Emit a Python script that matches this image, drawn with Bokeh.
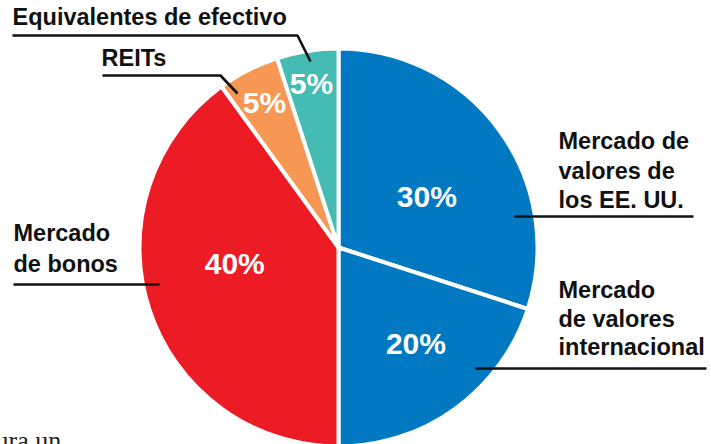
import numpy as np
from bokeh.plotting import figure
from bokeh.models import Range1d, ColumnDataSource
from bokeh.core.properties import value
from bokeh.embed import file_html
from bokeh.resources import INLINE

# ---------------- data ----------------
categories = ["Mercado de valores de los EE. UU.", "Mercado de valores internacional",
              "Mercado de bonos", "REITs", "Equivalentes de efectivo"]
shares = [30, 20, 40, 5, 5]
pct_labels = ["30%", "20%", "40%", "5%", "5%"]
label_lines = [["Mercado de", "valores de", "los EE. UU."],
               ["Mercado", "de valores", "internacional"],
               ["Mercado", "de bonos"],
               ["REITs"],
               ["Equivalentes de efectivo"]]
colors = ["#0079C2", "#0079C2", "#ED1C24", "#F69853", "#45BCB3"]

# ---------------- layout (pixels, page coords) ----------------
W, H = 711, 444
def px(sx):  return sx
def py(sy):  return H - sy

CX, CY, R = px(338), py(247), 199
# percent label placement: (angle offset from slice middle in deg, radius)
pct_place = [(-6, 102), (3, 123), (-9.2, 105), (0, 163), (0.4, 166)]
PCT_SIZE = 30
# outer label placement: x, first baseline, line pitch
lab_place = [(558, 149, 29.5), (558, 298, 28.5), (13, 241, 31), (101, 66, 0), (12, 25, 0)]
leaders = [[(514, 216), (693, 216)],
           [(475, 368), (706, 368)],
           [(13, 284), (159, 284)],
           [(102, 75), (220, 75), (237, 93)],
           [(12, 35), (297, 35), (310, 61)]]
LAB_PX = 23.5

# ---------------- geometry from data ----------------
vals = np.array(shares, dtype=float)
frac = vals / vals.sum()
cum_after = np.cumsum(frac)
cum_before = cum_after - frac
start = np.deg2rad(90 - cum_after * 360)
end = np.deg2rad(90 - cum_before * 360)
mid = (start + end) / 2

src = ColumnDataSource(dict(start=start, end=end, color=colors, cat=categories))

p = figure(width=W, height=H, output_backend="svg", toolbar_location=None,
           x_range=Range1d(0, W), y_range=Range1d(0, H),
           x_axis_location=None, y_axis_location=None, min_border=0)
p.grid.visible = False
p.outline_line_color = None
p.background_fill_color = "white"
p.border_fill_color = "white"

p.wedge(x=CX, y=CY, radius=R, start_angle="start", end_angle="end",
        fill_color="color", line_color="white", line_width=4, source=src)

# percent labels (centred on the digit height)
lx, ly = [], []
for m, (da, r) in zip(mid, pct_place):
    a = m + np.deg2rad(da)
    lx.append(CX + r * np.cos(a))
    ly.append(CY + r * np.sin(a))
p.text(x=lx, y=ly, text=pct_labels, text_color="white", text_font=value("Liberation Sans"),
       text_font_style="bold", text_font_size=f"{PCT_SIZE}px", text_align="center",
       text_baseline="middle")

# outer labels
tx, ty, tt = [], [], []
for lines, (x0, b0, pitch) in zip(label_lines, lab_place):
    for k, s in enumerate(lines):
        tx.append(px(x0)); ty.append(py(b0 + k * pitch) + 0.35 * LAB_PX); tt.append(s)
p.text(x=tx, y=ty, text=tt, text_color="#111111", text_font=value("Liberation Sans"),
       text_font_style="bold", text_font_size=f"{LAB_PX}px", text_align="left",
       text_baseline="middle")

# leader lines
p.multi_line(xs=[[px(a) for a, b in L] for L in leaders],
             ys=[[py(b) for a, b in L] for L in leaders],
             line_color="#111111", line_width=2.6)

# cut-off body text at the bottom of the page
p.text(x=[px(-5)], y=[py(448) + 0.3 * 26], text=["ura un"], text_color="#222222",
       text_font=value("Liberation Serif"), text_font_size="26px",
       text_align="left", text_baseline="middle")

open("out.html", "w").write(file_html(p, INLINE))
